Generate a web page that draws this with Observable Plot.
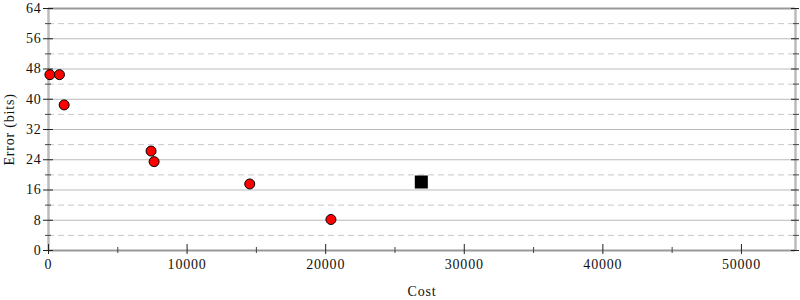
<!DOCTYPE html>
<html><head><meta charset="utf-8">
<script src="https://cdn.jsdelivr.net/npm/d3@7"></script>
<script src="https://cdn.jsdelivr.net/npm/@observablehq/plot@0.6"></script>
<style>body{margin:0;background:#fff} #chart svg text{letter-spacing:0.8px}</style>
</head><body><div id="chart"></div>
<script>
const costs = [100, 790, 1130, 7400, 7620, 14520, 20380];
const errors = [46.5, 46.5, 38.5, 26.3, 23.5, 17.6, 8.2];
const refCost = [26900];
const refError = [18.1];
const yMajor = [0, 8, 16, 24, 32, 40, 48, 56, 64];
const yMinor = [4, 12, 20, 28, 36, 44, 52, 60];
const xMajor = [0, 10000, 20000, 30000, 40000, 50000];
const xMinor = [5000, 15000, 25000, 35000, 45000];
const xMax = 53900;

const pts = costs.map((c, i) => ({cost: c, err: errors[i]}));
const ref = refCost.map((c, i) => ({cost: c, err: refError[i]}));
const innerMajor = yMajor.filter(d => d > 0 && d < 64);

const tickOnly = (dir, anchor, ticks, size, stroke) =>
  (dir === "y" ? Plot.axisY : Plot.axisX)({anchor, ticks, tickSize: size, text: null, stroke, label: null});

const chart = Plot.plot({
  width: 800, height: 300,
  marginLeft: 48, marginRight: 5, marginTop: 8, marginBottom: 50,
  style: {fontFamily: "'Liberation Serif', serif", fontSize: "14px", background: "#fff"},
  x: {domain: [0, xMax], label: null},
  y: {domain: [0, 64], label: null},
  marks: [
    Plot.ruleY(innerMajor, {stroke: "#bbb", strokeWidth: 1}),
    Plot.ruleY(yMinor, {stroke: "#c8c8c8", strokeWidth: 1, strokeDasharray: "6,4"}),
    Plot.ruleX([0, xMax], {stroke: "#bbb", strokeWidth: 2.5}),
    Plot.ruleY([0, 64], {stroke: "#999", strokeWidth: 2}),
    // left axis
    Plot.axisY({anchor: "left", ticks: yMajor, tickSize: 5, tickPadding: 2, tickFormat: d => String(d), fontSize: 14, stroke: "#222", fill: "#111", label: "Error (bits)", labelAnchor: "center", labelArrow: "none", labelOffset: 44}),
    tickOnly("y", "left", yMajor, -5, "#222"),
    tickOnly("y", "left", yMinor, 3, "#444"),
    tickOnly("y", "left", yMinor, -3, "#444"),
    // right axis
    tickOnly("y", "right", yMajor, 3, "#222"),
    tickOnly("y", "right", yMajor, -5, "#222"),
    tickOnly("y", "right", yMinor, 3, "#444"),
    tickOnly("y", "right", yMinor, -3, "#444"),
    // bottom axis
    Plot.axisX({anchor: "bottom", ticks: xMajor, tickSize: 4, tickPadding: 5, tickFormat: d => String(d), fontSize: 14, stroke: "#222", fill: "#111", label: "Cost", labelAnchor: "center", labelArrow: "none", labelOffset: 45}),
    tickOnly("x", "bottom", xMajor, -6, "#222"),
    tickOnly("x", "bottom", xMinor, 3, "#444"),
    tickOnly("x", "bottom", xMinor, -3, "#444"),
    Plot.dot(pts, {x: "cost", y: "err", r: 5, fill: "#f00", stroke: "#000", strokeWidth: 1}),
    Plot.dot(ref, {x: "cost", y: "err", r: 6.5, symbol: "square", fill: "#000", stroke: "#000"})
  ]
});
document.getElementById("chart").appendChild(chart);
</script>
</body></html>
